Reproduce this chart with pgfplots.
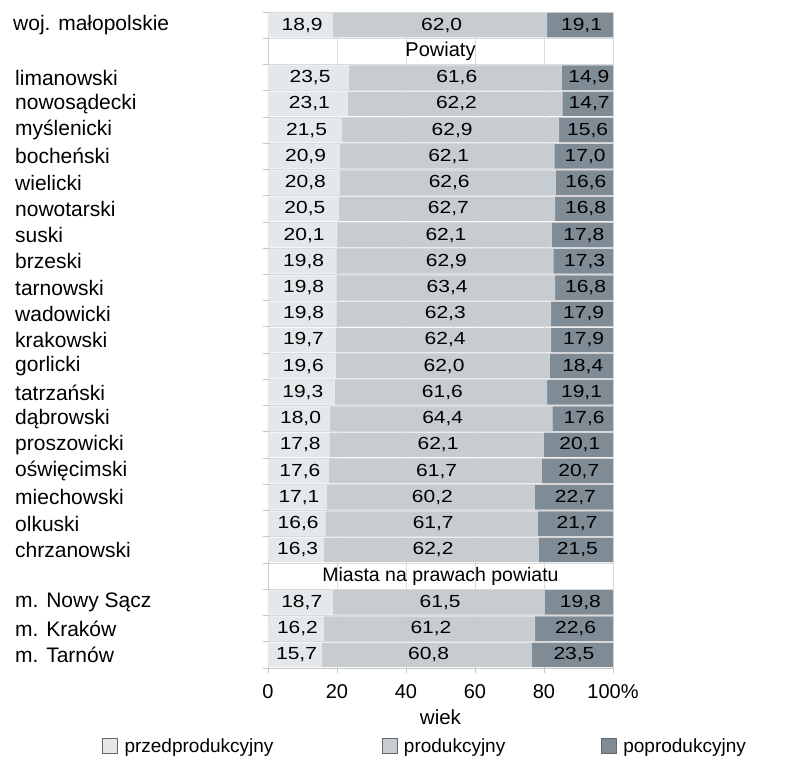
\documentclass[border=0pt]{standalone}
\usepackage{fontspec}
\setmainfont{Liberation Sans}
\newfontfamily\valfont{Liberation Sans}[FakeStretch=1.2]
\usepackage{pgfplots}
\pgfplotsset{compat=1.18}
\usepackage{pgfplotstable}

\definecolor{przed}{HTML}{E5E8EA}
\definecolor{prod}{HTML}{C6CCD0}
\definecolor{popr}{HTML}{7F8B95}
\definecolor{gridc}{HTML}{DADADA}
\definecolor{axisc}{HTML}{C8C8C8}

\newcommand{\fs}{\fontsize{19}{22}\selectfont}
\newcommand{\fcat}{\fontsize{21}{24}\selectfont}
\newcommand{\fval}{\valfont\fontsize{17.5}{20}\selectfont}

% y = row (0 = top), a = przedprodukcyjny, b = produkcyjny, c = poprodukcyjny
\pgfplotstableread{
y a b c
0 18.9 62.0 19.1
2 23.5 61.6 14.9
3 23.1 62.2 14.7
4 21.5 62.9 15.6
5 20.9 62.1 17.0
6 20.8 62.6 16.6
7 20.5 62.7 16.8
8 20.1 62.1 17.8
9 19.8 62.9 17.3
10 19.8 63.4 16.8
11 19.8 62.3 17.9
12 19.7 62.4 17.9
13 19.6 62.0 18.4
14 19.3 61.6 19.1
15 18.0 64.4 17.6
16 17.8 62.1 20.1
17 17.6 61.7 20.7
18 17.1 60.2 22.7
19 16.6 61.7 21.7
20 16.3 62.2 21.5
22 18.7 61.5 19.8
23 16.2 61.2 22.6
24 15.7 60.8 23.5
}\dane

\begin{document}
\begin{tikzpicture}[font=\fs]
\begin{axis}[
    scale only axis,
    width=345pt,
    height=656pt,
    xbar stacked,
    bar width=24.5pt,
    bar shift=0pt,
    xmin=0, xmax=100,
    ymin=-0.5, ymax=24.5,
    y dir=reverse,
    enlargelimits=false,
    axis x line*=bottom,
    axis y line*=left,
    axis line style={draw=axisc, line width=0.8pt},
    tick align=outside,
    major tick length=5pt,
    tick style={draw=axisc, line width=0.8pt},
    xtick={0,20,40,60,80,100},
    xticklabels={0,20,40,60,80,100\%},
    xmajorgrids,
    ymajorgrids,
    grid style={draw=gridc, line width=0.8pt},
    ytick={-0.5,0.5,...,24.5},
    yticklabels={},
    extra y ticks={0,1,...,24},
    extra y tick labels={\hspace*{-2pt}woj. małopolskie,,limanowski,nowosądecki,myślenicki,bocheński,wielicki,nowotarski,suski,brzeski,tarnowski,wadowicki,krakowski,gorlicki,tatrzański,dąbrowski,proszowicki,oświęcimski,miechowski,olkuski,chrzanowski,,m. Nowy Sącz,m. Kraków,m. Tarnów},
    extra y tick style={major tick length=0pt, grid=none,
        yticklabel style={anchor=west, inner sep=0pt, xshift=-253pt, font=\fcat}},
    tick label style={font=\fontsize{20}{23}\selectfont, text=black},
    xticklabel style={yshift=-8pt},
    xlabel={wiek},
    xlabel style={font=\fontsize{20.5}{23}\selectfont, yshift=-4pt},
    nodes near coords={\pgfmathprintnumber[fixed,fixed zerofill,precision=1,use comma,assume math mode=true]{\rawx}},
    visualization depends on={rawx \as \rawx},
    every node near coord/.append style={anchor=center, xshift=1.5pt, font=\fval, text=black},
    legend columns=3,
    legend style={draw=none, at={(-0.49,-0.119)}, anchor=west, font=\fs,
        /tikz/every even column/.append style={column sep=0pt}},
    legend image code/.code={\draw[#1, draw=black!60, line width=0.8pt] (0pt,-7.5pt) rectangle (15pt,7.5pt); \path (20pt,0pt);},
]
\addplot[fill=przed, draw=none] table[x=a, y=y] {\dane};
\addplot[fill=prod, draw=none] table[x=b, y=y] {\dane};
\addplot[fill=popr, draw=none] table[x=c, y=y] {\dane};
\legend{\makebox[255pt][l]{przedprodukcyjny},\makebox[195pt][l]{produkcyjny},poprodukcyjny}
\node[font=\fontsize{20}{23}\selectfont] at (axis cs:50,1) {Powiaty};
\node[font=\fontsize{19.5}{23}\selectfont] at (axis cs:50,21) {Miasta na prawach powiatu};
\end{axis}
\path (-268pt,-92pt) (527pt,668pt);
\end{tikzpicture}
\end{document}
